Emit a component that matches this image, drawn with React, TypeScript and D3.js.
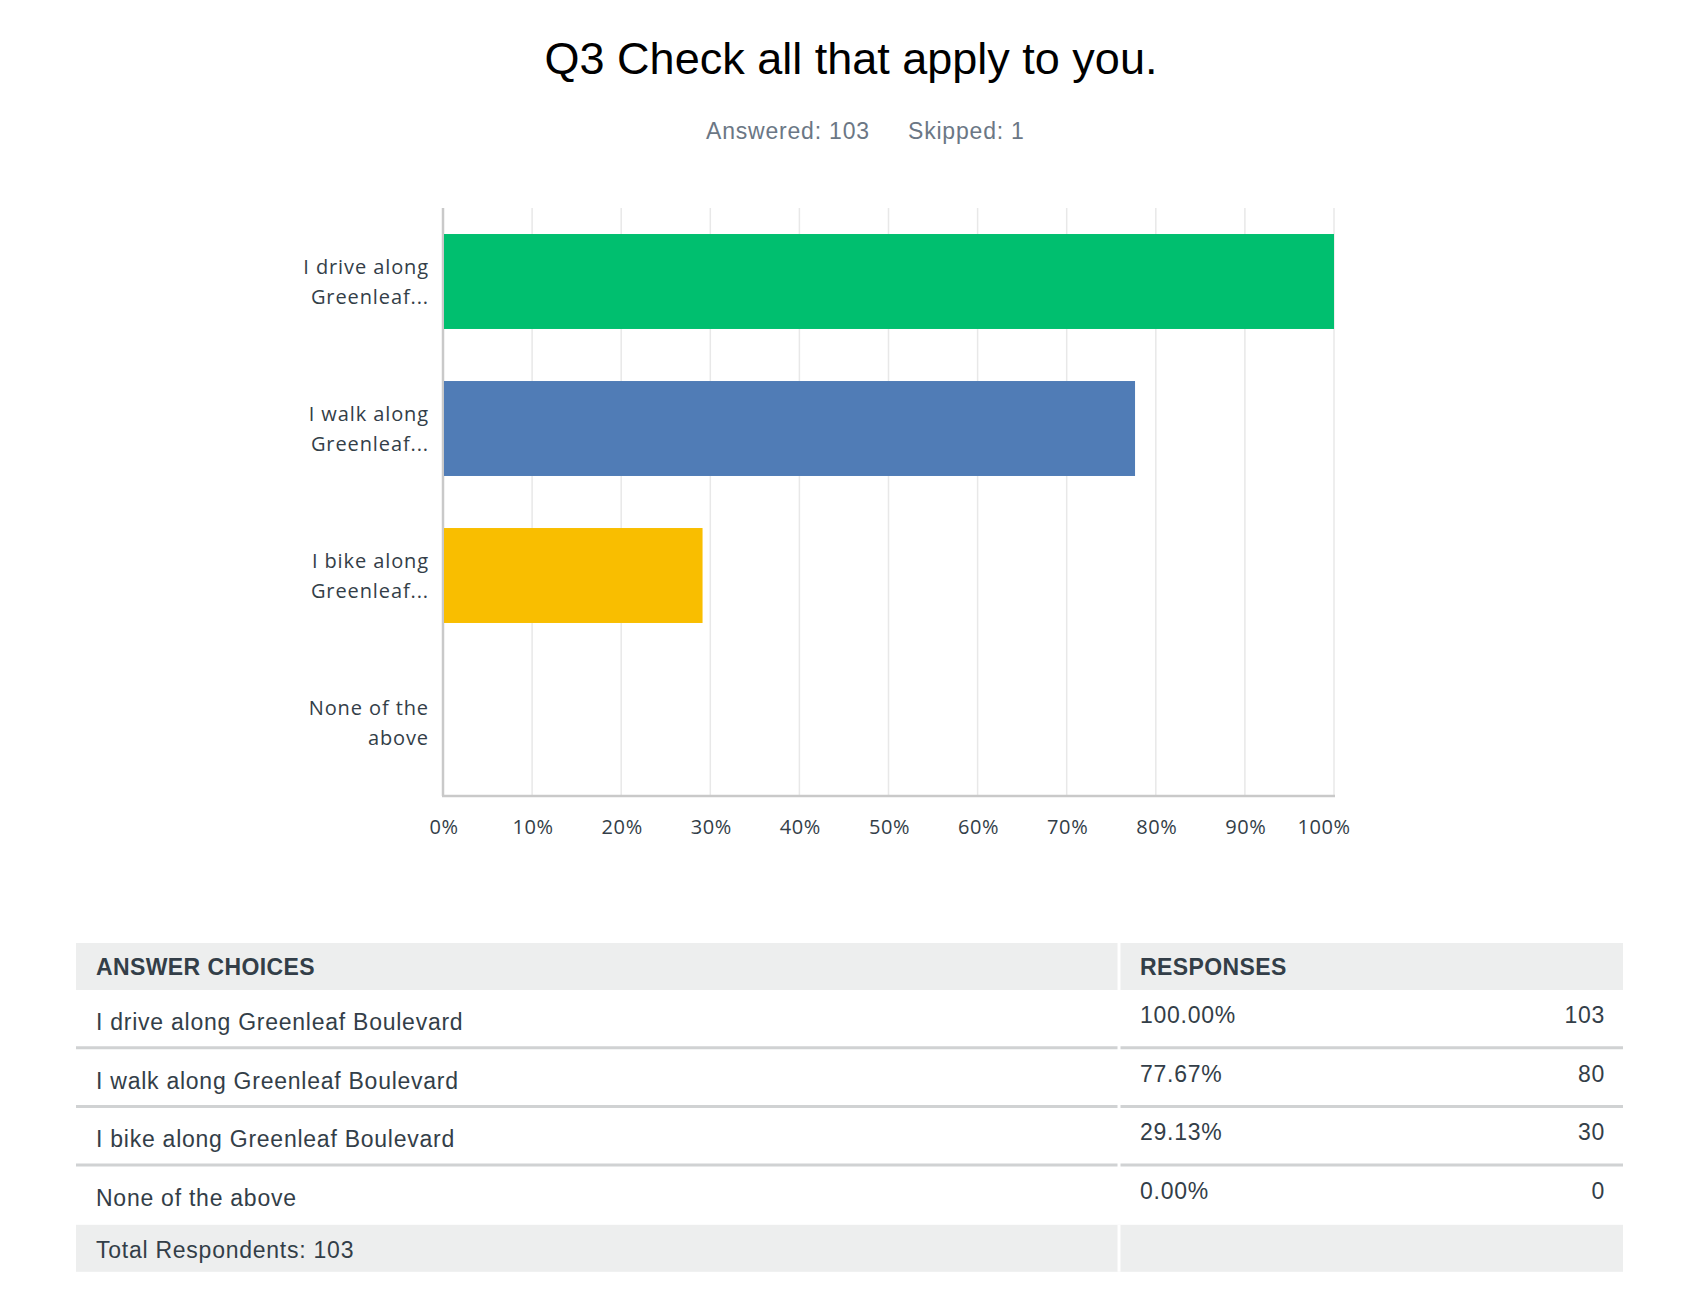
import React from 'react';
import * as d3 from 'd3';

const title = 'Q3 Check all that apply to you.';
const answered = 103;
const skipped = 1;
const totalRespondents = 103;

const categories = [
  'I drive along Greenleaf Boulevard',
  'I walk along Greenleaf Boulevard',
  'I bike along Greenleaf Boulevard',
  'None of the above',
];
const axisLabels = [
  ['I drive along', 'Greenleaf...'],
  ['I walk along', 'Greenleaf...'],
  ['I bike along', 'Greenleaf...'],
  ['None of the', 'above'],
];
const percents = [100, 77.67, 29.13, 0];
const counts = [103, 80, 30, 0];
const barColors = ['#00bf6f', '#507cb6', '#f9be00', '#6bc8cd'];
const xTicks = [0, 10, 20, 30, 40, 50, 60, 70, 80, 90, 100];

const W = 1699;
const H = 1294;
const textColor = '#333e48';
const labelFont = '"Open Sans", sans-serif';
const tableFont = '"Liberation Sans", Arial, sans-serif';

export default function App() {
  const x = d3.scaleLinear().domain([0, 100]).range([443, 1334]);
  const y = d3
    .scaleBand<string>()
    .domain(categories)
    .range([208, 796])
    .paddingInner(0.354)
    .paddingOuter(0.177);

  const tableLeft = 76;
  const tableRight = 1623;
  const colDiv = 1119;
  const headerTop = 943;
  const headerBottom = 990;
  const rowPitch = 58.7;
  const footerTop = headerBottom + rowPitch * categories.length;
  const footerBottom = footerTop + 47;
  const ls = 0.75;

  return (
    <svg
      width={W}
      height={H}
      style={{ position: 'absolute', left: 0, top: 0, display: 'block', background: '#fff' }}
    >
      <text x={851} y={74} textAnchor="middle" fontFamily={tableFont} fontSize={45} fill="#000">
        {title}
      </text>
      <text x={706} y={139} fontFamily={tableFont} fontSize={23} letterSpacing={0.8} fill="#6b7785">
        {`Answered: ${answered}`}
      </text>
      <text x={908} y={139} fontFamily={tableFont} fontSize={23} letterSpacing={0.8} fill="#6b7785">
        {`Skipped: ${skipped}`}
      </text>

      {/* gridlines */}
      {xTicks.map((t) => (
        <line
          key={'g' + t}
          x1={x(t)}
          x2={x(t)}
          y1={208}
          y2={796}
          stroke={t === 0 ? '#c9c9c9' : '#e8e8e8'}
          strokeWidth={t === 0 ? 2.5 : 1.5}
        />
      ))}
      <line x1={442} x2={1335} y1={796} y2={796} stroke="#c9c9c9" strokeWidth={2.5} />

      {/* bars */}
      {categories.map((c, i) => (
        <rect
          key={c}
          x={x(0) + 1}
          y={y(c)}
          width={Math.max(0, x(percents[i]) - x(0) - 1)}
          height={y.bandwidth()}
          fill={barColors[i]}
        />
      ))}

      {/* category labels */}
      {categories.map((c, i) => {
        const cy = (y(c) as number) + y.bandwidth() / 2;
        return (
          <text
            key={'l' + c}
            textAnchor="end"
            fontFamily={labelFont}
            fontSize={20}
            letterSpacing={0.9}
            fill={textColor}
          >
            <tspan x={429} y={cy - 8}>{axisLabels[i][0]}</tspan>
            <tspan x={429} y={cy + 22}>{axisLabels[i][1]}</tspan>
          </text>
        );
      })}

      {/* x tick labels */}
      {xTicks.map((t) => (
        <text
          key={'t' + t}
          x={t === 100 ? x(t) - 10 : x(t) + 1}
          y={834}
          textAnchor="middle"
          fontFamily={labelFont}
          fontSize={20}
          letterSpacing={0.6}
          fill={textColor}
        >
          {`${t}%`}
        </text>
      ))}

      {/* table */}
      <rect x={tableLeft} y={headerTop} width={tableRight - tableLeft} height={headerBottom - headerTop} fill="#edeeee" />
      <rect x={tableLeft} y={footerTop} width={tableRight - tableLeft} height={footerBottom - footerTop} fill="#edeeee" />
      <line x1={colDiv} x2={colDiv} y1={headerTop} y2={headerBottom} stroke="#fff" strokeWidth={3} />
      <line x1={colDiv} x2={colDiv} y1={footerTop} y2={footerBottom} stroke="#fff" strokeWidth={3} />
      <text x={96} y={975} fontFamily={tableFont} fontSize={23} fontWeight={600} letterSpacing={0.4} fill={textColor}>
        ANSWER CHOICES
      </text>
      <text x={1140} y={975} fontFamily={tableFont} fontSize={23} fontWeight={600} letterSpacing={0.4} fill={textColor}>
        RESPONSES
      </text>
      {categories.map((c, i) => {
        const top = headerBottom + rowPitch * i;
        return (
          <g key={'r' + c}>
            <text x={96} y={top + 40} fontFamily={tableFont} fontSize={23} letterSpacing={ls} fill={textColor}>
              {c}
            </text>
            <text x={1140} y={top + 33} fontFamily={tableFont} fontSize={23} letterSpacing={ls} fill={textColor}>
              {`${percents[i].toFixed(2)}%`}
            </text>
            <text x={1605} y={top + 33} textAnchor="end" fontFamily={tableFont} fontSize={23} letterSpacing={ls} fill={textColor}>
              {counts[i]}
            </text>
            {i < categories.length - 1 && (
              <>
                <line x1={tableLeft} x2={colDiv - 1.5} y1={top + rowPitch - 1} y2={top + rowPitch - 1} stroke="#d0d2d3" strokeWidth={3} />
                <line x1={colDiv + 1.5} x2={tableRight} y1={top + rowPitch - 1} y2={top + rowPitch - 1} stroke="#d0d2d3" strokeWidth={3} />
              </>
            )}
          </g>
        );
      })}
      <text x={96} y={footerTop + 33} fontFamily={tableFont} fontSize={23} letterSpacing={ls} fill={textColor}>
        {`Total Respondents: ${totalRespondents}`}
      </text>
    </svg>
  );
}
